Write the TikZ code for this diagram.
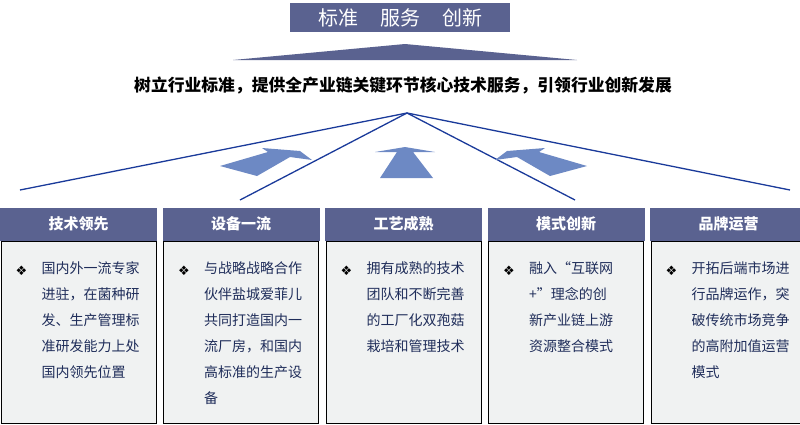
\documentclass[tikz,border=0pt]{standalone}
\usepackage{fontspec}
\setmainfont{Noto Sans CJK SC}
\newfontfamily\symfont{DejaVu Sans}
\usetikzlibrary{positioning}
\definecolor{headblue}{HTML}{5A6290}
\definecolor{linkblue}{HTML}{1A3A9A}
\definecolor{arrowblue}{HTML}{6D89C4}
\definecolor{bodygray}{HTML}{F0F2F2}
\definecolor{textblue}{HTML}{1F2D5A}
\tikzset{
  headbox/.style={fill=headblue, text=white, minimum width=157pt, minimum height=33pt, font=\fontsize{15}{18}\selectfont\bfseries, inner sep=0pt},
  bodybox/.style={fill=bodygray, draw=black, line width=0.8pt, minimum width=155pt, minimum height=182pt, inner sep=0pt},
  bodytext/.style={text=textblue, align=left, font=\fontsize{14}{26}\selectfont, anchor=north west, inner sep=0pt},
  ray/.style={draw=linkblue, line width=1.3pt}
}
\begin{document}
\begin{tikzpicture}[x=1pt, y=-1pt]
\useasboundingbox (0,0) rectangle (800,424);
\node[fill=headblue, text=white, minimum width=220pt, minimum height=29pt, font=\fontsize{20}{22}\selectfont] (top) at (400,17.5) {标准\hspace{1.1em}服务\hspace{1.1em}创新};
\fill[headblue] (233,60) -- (405,44) -- (577,60) -- cycle;
\node[font=\fontsize{16.8}{20}\selectfont\bfseries] (slogan) at (403,85) {树立行业标准，提供全产业链关键环节核心技术服务，引领行业创新发展};
\coordinate (apex) at (407,113);
\foreach \x/\y in {20/190, 240/200, 575/200, 790/190}
  \draw[ray] (apex) -- (\x,\y);
% push arrows
\fill[arrowblue] (380,178) -- (397,152) -- (375,152) -- (405,147) -- (435,152) -- (413,152) -- (433,178) -- cycle;
\foreach \s/\o in {1/0, -1/807}
  \fill[arrowblue, xshift=\o, xscale=\s]
    (220,166) -- (268,152) -- (262,148) -- (300,151) -- (312,160) -- (290,157) -- (257,176) -- cycle;
\foreach \i/\h/\t in {
  0/技术领先/{国内外一流专家\\进驻，在菌种研\\发、生产管理标\\准研发能力上处\\国内领先位置},
  1/设备一流/{与战略战略合作\\伙伴盐城爱菲儿\\共同打造国内一\\流厂房，和国内\\高标准的生产设\\备},
  2/工艺成熟/{拥有成熟的技术\\团队和不断完善\\的工厂化双孢菇\\栽培和管理技术},
  3/模式创新/{融入“互联网\\+”理念的创\\新产业链上游\\资源整合模式},
  4/品牌运营/{开拓后端市场进\\行品牌运作，突\\破传统市场竞争\\的高附加值运营\\模式}}{
  \node[headbox] (h\i) at (78.5+162.5*\i,224) {\h};
  \node[bodybox, below=0pt of h\i] (b\i) {};
  \node[text=black, font=\symfont\fontsize{13}{15}\selectfont] (m\i) at ([xshift=-57pt, yshift=-30pt]b\i.north) {❖};
  \node[bodytext] (t\i) at ([xshift=-37pt, yshift=-21pt]b\i.north) {\t};
}
\end{tikzpicture}
\end{document}
